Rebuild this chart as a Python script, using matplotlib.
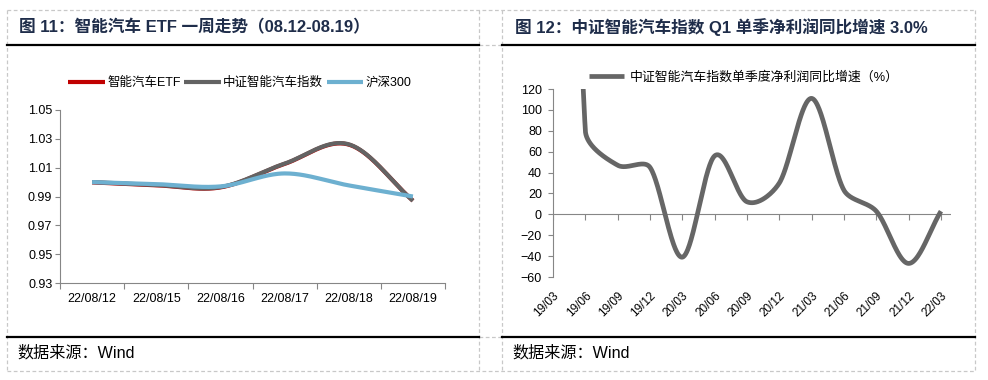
import numpy as np
import matplotlib
matplotlib.use("Agg")
import matplotlib.pyplot as plt
from matplotlib.lines import Line2D

plt.rcParams['font.family'] = ['Liberation Sans', 'Noto Sans CJK SC', 'DejaVu Sans']

# 左图：智能汽车ETF一周走势
dates = ["22/08/12", "22/08/15", "22/08/16", "22/08/17", "22/08/18", "22/08/19"]
etf = [0.9998, 0.9978, 0.9963, 1.0126, 1.0260, 0.9871]
zz_index = [1.0000, 0.9980, 0.9965, 1.0128, 1.0262, 0.9870]
hs300 = [1.0000, 0.9986, 0.9970, 1.0060, 0.9977, 0.9900]
left_yticks = [0.93, 0.95, 0.97, 0.99, 1.01, 1.03, 1.05]

# 右图：中证智能汽车指数单季度净利润同比增速
quarters = ["19/03", "19/06", "19/09", "19/12", "20/03", "20/06", "20/09",
            "20/12", "21/03", "21/06", "21/09", "21/12", "22/03"]
growth = [1150, 80, 47, 45, -41, 56, 12, 30, 111, 23, 3, -47, 3.0]
right_yticks = [-60, -40, -20, 0, 20, 40, 60, 80, 100, 120]

W, H = 988, 380
fig = plt.figure(figsize=(W / 100, H / 100), dpi=100)


def fx(px):
    return px / W


def fy(py):
    return 1 - py / H


def smooth(x, y, sx, sy, n=40):
    # Catmull-Rom 平滑（像素空间），控制点长度不超过相邻线段的 1/3
    pts = np.column_stack([np.asarray(x, float) * sx, np.asarray(y, float) * sy])
    m = len(pts)
    tang = np.zeros_like(pts)
    for i in range(m):
        a = pts[max(i - 1, 0)]
        b = pts[min(i + 1, m - 1)]
        k = 6 if 0 < i < m - 1 else 3
        tang[i] = (b - a) / k

    def clamp(v, lim):
        ln = np.hypot(*v)
        return v * (lim / ln) if ln > lim else v

    t = np.linspace(0, 1, n)[:, None]
    out = []
    for i in range(m - 1):
        p0, p3 = pts[i], pts[i + 1]
        L = np.hypot(*(p3 - p0)) / 3
        c1 = p0 + clamp(tang[i], L)
        c2 = p3 - clamp(tang[i + 1], L)
        seg = (1 - t) ** 3 * p0 + 3 * (1 - t) ** 2 * t * c1 + 3 * (1 - t) * t ** 2 * c2 + t ** 3 * p3
        out.append(seg if i == 0 else seg[1:])
    out = np.vstack(out)
    return out[:, 0] / sx, out[:, 1] / sy


def fig_line(x0, x1, y0, y1, **kw):
    fig.add_artist(Line2D([fx(x0), fx(x1)], [fy(y0), fy(y1)], transform=fig.transFigure, **kw))


# 外框（虚线）
dash = dict(color='#c8c8c8', lw=0.9, ls=(0, (3, 2)))
for yy in (10, 371):
    fig_line(7, 975, yy, yy, **dash)
for yy in (45, 337):
    fig_line(479, 502, yy, yy, **dash)
for xx in (7, 479, 502, 975):
    fig_line(xx, xx, 10, 371, **dash)
# 标题下划线和来源上方的黑线
for yy in (45, 337):
    fig_line(7, 479, yy, yy, color='black', lw=1.6)
    fig_line(502, 975, yy, yy, color='black', lw=1.6)

title_color = '#1f2d4a'
fig.text(fx(19), fy(27), "图 11：智能汽车 ETF 一周走势（08.12-08.19）", fontsize=12,
         fontweight='bold', color=title_color, va='center', ha='left')
fig.text(fx(515), fy(27), "图 12：中证智能汽车指数 Q1 单季净利润同比增速 3.0%", fontsize=12,
         fontweight='bold', color=title_color, va='center', ha='left')
fig.text(fx(17), fy(353), "数据来源：Wind", fontsize=11.6, color='black', va='center', ha='left')
fig.text(fx(512), fy(353), "数据来源：Wind", fontsize=11.6, color='black', va='center', ha='left')

axis_gray = '#868686'

# ---------------- 左图 ----------------
ax1 = fig.add_axes([fx(60), fy(283), fx(445) - fx(60), fy(110) - fy(283)])
x = np.arange(len(dates))
ax1.set_xlim(-0.5, len(dates) - 0.5)
ax1.set_ylim(0.93, 1.05)
sx1 = (445 - 60) / len(dates)
sy1 = (283 - 110) / 0.12
series = [(etf, '#c00000', '智能汽车ETF'), (zz_index, '#636363', '中证智能汽车指数'),
          (hs300, '#6db0d0', '沪深300')]
for vals, col, lab in series:
    xs, ys = smooth(x, vals, sx1, sy1)
    ax1.plot(xs, ys, color=col, lw=3.0, label=lab, solid_capstyle='butt')
ax1.set_yticks(left_yticks)
ax1.set_yticklabels([f"{v:.2f}" for v in left_yticks])
ax1.set_xticks(x)
ax1.set_xticklabels(dates)
ax1.set_xticks(np.arange(-0.5, len(dates)), minor=True)
ax1.tick_params(axis='x', which='major', length=0, pad=7, labelsize=9)
ax1.tick_params(axis='x', which='minor', length=4, width=0.8, color=axis_gray, direction='out')
ax1.tick_params(axis='y', length=3.5, width=0.8, color=axis_gray, pad=2, labelsize=9)
for s in ('top', 'right'):
    ax1.spines[s].set_visible(False)
for s in ('left', 'bottom'):
    ax1.spines[s].set_color(axis_gray)
    ax1.spines[s].set_linewidth(0.8)
ax1.legend(loc='center', bbox_to_anchor=(fx(240), fy(83)), bbox_transform=fig.transFigure,
           ncol=3, frameon=False, fontsize=9, handlelength=2.9, handletextpad=0.2,
           columnspacing=0.3, borderpad=0)

# ---------------- 右图 ----------------
ax2 = fig.add_axes([fx(553), fy(277), fx(951) - fx(553), fy(89) - fy(277)])
q = np.arange(len(quarters))
ax2.set_xlim(0, 12.31)
ax2.set_ylim(-60, 120)
sx2 = 32.3
sy2 = (277 - 89) / 180
xs, ys = smooth(q, growth, sx2, sy2, n=60)
ax2.plot(xs, ys, color='#666666', lw=3.4, label='中证智能汽车指数单季度净利润同比增速（%）',
         solid_capstyle='butt')
ax2.axhline(0, color=axis_gray, lw=0.8, zorder=1)
ax2.plot(q, np.zeros(len(q)), ls='', marker=3, ms=4, mew=0.8, color=axis_gray, zorder=1)
ax2.set_yticks(right_yticks)
ax2.set_xticks(q)
ax2.set_xticklabels(quarters, rotation=45, ha='right', va='top', rotation_mode='anchor')
ax2.tick_params(axis='x', length=0, pad=9, labelsize=8.5)
ax2.tick_params(axis='y', length=3.5, width=0.8, color=axis_gray, pad=4.5, labelsize=9)
for s in ('top', 'right', 'bottom'):
    ax2.spines[s].set_visible(False)
ax2.spines['left'].set_color(axis_gray)
ax2.spines['left'].set_linewidth(0.8)
ax2.legend(loc='center', bbox_to_anchor=(fx(744), fy(77)), bbox_transform=fig.transFigure,
           frameon=False, fontsize=9.3, handlelength=2.7, handletextpad=0.4, borderpad=0)

fig.savefig("out.png", dpi=100)
